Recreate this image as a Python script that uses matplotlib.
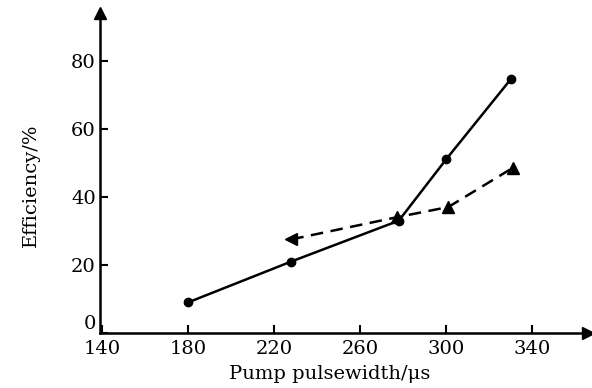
import matplotlib.pyplot as plt

plt.rcParams['font.family'] = 'DejaVu Serif'

# solid line, circles
pw_circle = [180, 228, 278, 300, 330]
eff_circle = [9, 21, 33, 51, 74.5]
# dashed line, triangles
pw_tri = [228, 277, 301, 331]
eff_tri = [27.5, 34, 37, 48.5]

xticks = [140, 180, 220, 260, 300, 340]
yticks = [0, 20, 40, 60, 80]

fig = plt.figure(figsize=(5.92, 3.88), dpi=100)
ax = fig.add_axes([100 / 592, 1 - 333 / 388, 488 / 592, 320 / 388])

ax.plot(pw_circle, eff_circle, '-', color='black', lw=1.8,
        marker='o', ms=6)
ax.plot(pw_tri, eff_tri, '--', color='black', lw=1.8, dashes=(5, 3))
ax.plot(pw_tri[:1], eff_tri[:1], '<', color='black', ms=8)
ax.plot(pw_tri[1:], eff_tri[1:], '^', color='black', ms=8)

ax.set_xlim(139, 366)
ax.set_ylim(0, 94)
ax.set_xticks(xticks)
ax.set_yticks(yticks)
ax.tick_params(direction='in', length=6, width=1.5, labelsize=14, pad=3)
ax.tick_params(axis='x', pad=5)

# lift the "0" so it does not clash with "140"
ax.get_yticklabels()[0].set_verticalalignment('bottom')

for s in ['top', 'right']:
    ax.spines[s].set_visible(False)
for s in ['left', 'bottom']:
    ax.spines[s].set_linewidth(1.8)

# axis arrows
ax.plot(0, 1, '^k', ms=9, transform=ax.transAxes, clip_on=False)
ax.plot(1, 0, '>k', ms=9, transform=ax.transAxes, clip_on=False)

ax.set_xlabel('Pump pulsewidth/μs', fontsize=14)
ax.set_ylabel('Efficiency/%', fontsize=14)
ax.xaxis.set_label_coords(230 / 488, -32 / 320)
ax.yaxis.set_label_coords(-60 / 488, 148 / 320)

fig.savefig('out.png', dpi=100)
